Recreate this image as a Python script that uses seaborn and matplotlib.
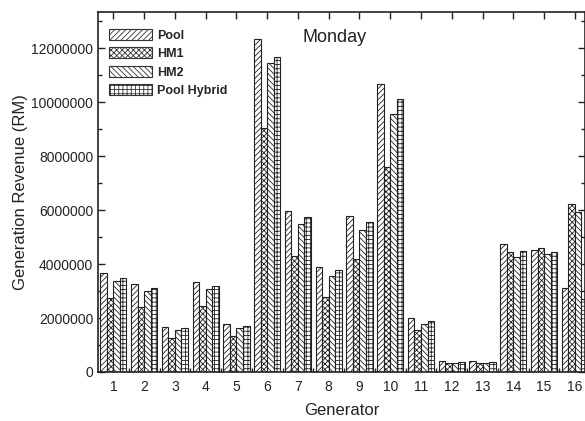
import numpy as np
import pandas as pd
import matplotlib
matplotlib.use("Agg")
import matplotlib.pyplot as plt
import matplotlib.patches as mpatches
from matplotlib.ticker import MultipleLocator, FixedLocator, ScalarFormatter
import seaborn as sns

# generator revenue (RM)
generators = [str(i) for i in range(1, 17)]
pool = [3.68e6, 3.26e6, 1.68e6, 3.33e6, 1.78e6, 12.36e6, 5.96e6, 3.88e6,
        5.78e6, 10.69e6, 2.01e6, 0.41e6, 0.41e6, 4.73e6, 4.53e6, 3.10e6]
hm1 = [2.73e6, 2.41e6, 1.25e6, 2.44e6, 1.33e6, 9.05e6, 4.30e6, 2.77e6,
       4.19e6, 7.60e6, 1.56e6, 0.33e6, 0.35e6, 4.46e6, 4.59e6, 6.22e6]
hm2 = [3.36e6, 3.01e6, 1.56e6, 3.06e6, 1.64e6, 11.47e6, 5.48e6, 3.57e6,
       5.27e6, 9.58e6, 1.77e6, 0.35e6, 0.35e6, 4.27e6, 4.37e6, 5.94e6]
pool_hybrid = [3.49e6, 3.10e6, 1.62e6, 3.19e6, 1.71e6, 11.70e6, 5.75e6, 3.79e6,
               5.56e6, 10.14e6, 1.90e6, 0.38e6, 0.37e6, 4.48e6, 4.44e6, 2.70e6]
series_names = ["Pool", "HM1", "HM2", "Pool Hybrid"]
hatches = ["//////", "xxxxxx", "\\\\\\\\\\\\", "++++"]

df = pd.DataFrame({
    "Generator": generators * 4,
    "Revenue": pool + hm1 + hm2 + pool_hybrid,
    "Scheme": np.repeat(series_names, len(generators)),
})

sns.set_style("ticks")
plt.rcParams["font.family"] = ["Liberation Sans", "DejaVu Sans"]
plt.rcParams["hatch.linewidth"] = 0.6

fig = plt.figure(figsize=(5.85, 4.21), dpi=100)
ax = fig.add_axes([0.1675, 0.1164, 0.8325, 0.855])

sns.barplot(data=df, x="Generator", y="Revenue", hue="Scheme",
            hue_order=series_names, order=generators,
            palette=["white"] * 4, width=0.85, saturation=1,
            edgecolor="#222222", linewidth=0.8, legend=False, ax=ax)

for cont, h in zip(ax.containers, hatches):
    for bar in cont:
        bar.set_hatch(h)
        bar.set_edgecolor("#222222")

ax.set_xlim(-0.5, 15.33)
ax.set_ylim(0, 13.35e6)
ax.yaxis.set_major_locator(MultipleLocator(2e6))
ax.yaxis.set_minor_locator(MultipleLocator(1e6))
fmt = ScalarFormatter(useOffset=False)
fmt.set_scientific(False)
ax.yaxis.set_major_formatter(fmt)
ax.xaxis.set_minor_locator(FixedLocator(np.arange(0.5, 15.5, 1)))

ax.tick_params(axis="both", which="both", direction="in", top=True, right=True,
               labelsize=10, colors="#222222")
ax.tick_params(axis="both", which="major", length=5, width=1)
ax.tick_params(axis="both", which="minor", length=3, width=1)
ax.tick_params(axis="x", which="minor", top=False)
ax.tick_params(axis="x", which="major", pad=6)
for sp in ax.spines.values():
    sp.set_linewidth(1.2)
    sp.set_color("#222222")

ax.set_xlabel("Generator", fontsize=12, color="#222222", labelpad=6)
ax.set_ylabel("Generation Revenue (RM)", fontsize=12, color="#222222", labelpad=2)
ax.text(0.485, 0.93, "Monday", transform=ax.transAxes, fontsize=13,
        color="#222222", ha="center", va="center")

handles = [mpatches.Patch(facecolor="white", edgecolor="#333333", hatch=h, lw=0.8)
           for h in hatches]
ax.legend(handles, series_names, loc="upper left", frameon=False,
          bbox_to_anchor=(0.0, 0.985), handlelength=3.4, handleheight=1.0,
          labelspacing=0.45, handletextpad=0.4,
          prop={"weight": "bold", "size": 9})

fig.savefig("out.png", dpi=100)
